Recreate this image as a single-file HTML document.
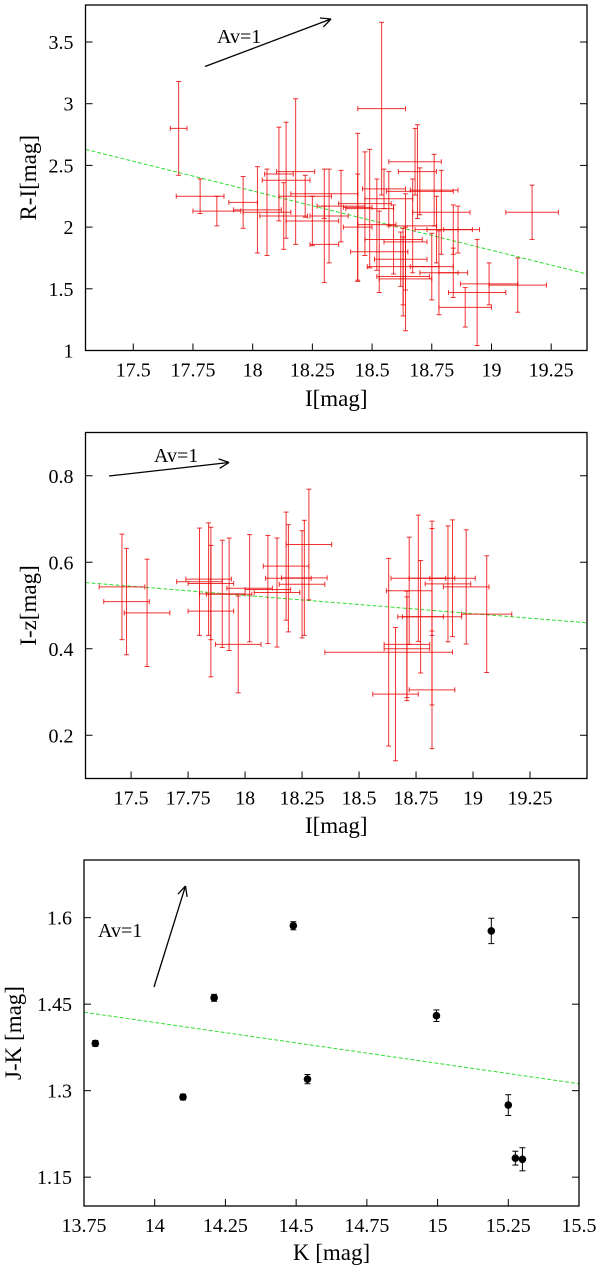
<!DOCTYPE html>
<html><head><meta charset="utf-8"><style>
html,body{margin:0;padding:0;background:#fff;width:600px;height:1268px;overflow:hidden}
svg text{font-family:"Liberation Serif",serif;fill:#000}
</style></head><body>
<svg id="chart" width="600" height="1268" viewBox="0 0 600 1268" xmlns="http://www.w3.org/2000/svg"></svg>
<script>
// Panel 1: R-I vs I
const p1X=[17.69,17.78,17.85,17.96,18.02,18.06,18.11,18.14,18.13,18.18,18.25,18.30,18.30,18.32,18.37,18.44,18.44,18.47,18.49,18.54,18.52,18.57,18.59,18.62,18.63,18.64,18.63,18.67,18.68,18.69,18.70,18.76,18.77,18.75,18.78,18.84,18.86,18.84,18.79,18.89,18.94,18.99,19.11,19.17,18.64,18.55,18.22,18.53];
const p1Y=[2.80,2.25,2.13,2.20,2.14,2.12,2.43,2.38,2.09,2.45,2.05,2.27,1.86,2.09,2.17,2.16,2.00,2.19,2.15,2.96,2.02,2.23,1.90,1.74,1.60,1.58,1.68,2.01,2.53,2.45,2.29,2.30,1.98,1.68,1.63,1.98,1.98,1.63,2.12,1.35,1.47,1.54,1.53,2.12,1.88,2.31,2.25,1.80];
const p1XE=[0.035,0.1,0.1,0.06,0.1,0.1,0.06,0.1,0.1,0.08,0.11,0.14,0.06,0.08,0.1,0.06,0.06,0.11,0.1,0.1,0.08,0.1,0.12,0.11,0.11,0.11,0.15,0.1,0.11,0.08,0.14,0.1,0.09,0.09,0.08,0.11,0.06,0.06,0.12,0.11,0.12,0.12,0.12,0.11,0.09,0.09,0.11,0.12];
const p1YE=[0.38,0.14,0.12,0.21,0.35,0.35,0.38,0.47,0.27,0.59,0.2,0.2,0.31,0.38,0.29,0.6,0.43,0.42,0.48,0.7,0.37,0.22,0.28,0.22,0.32,0.42,0.31,0.38,0.27,0.38,0.19,0.29,0.27,0.27,0.34,0.2,0.19,0.2,0.34,0.16,0.43,0.17,0.22,0.22,0.39,0.16,0.17,0.33];
const p1Fit=[[17.3,2.63],[19.4,1.62]];
const p1XTicks=[17.5,17.75,18,18.25,18.5,18.75,19,19.25];
const p1XTickLabels=["17.5","17.75","18","18.25","18.5","18.75","19","19.25"];
const p1YTicks=[1,1.5,2,2.5,3,3.5];
const p1YTickLabels=["1","1.5","2","2.5","3","3.5"];

// Panel 2: I-z vs I
const p2X=[17.46,17.48,17.57,17.80,17.84,17.85,17.85,17.90,17.93,17.97,18.02,18.10,18.14,18.18,18.19,18.25,18.26,18.28,18.63,18.66,18.71,18.71,18.72,18.76,18.77,18.82,18.82,18.82,18.89,18.91,18.97,19.06];
const p2Y=[0.543,0.509,0.483,0.555,0.561,0.551,0.487,0.527,0.526,0.41,0.540,0.537,0.530,0.591,0.563,0.549,0.564,0.641,0.392,0.295,0.41,0.40,0.534,0.563,0.474,0.305,0.563,0.474,0.550,0.563,0.543,0.48];
const p2XE=[0.1,0.1,0.1,0.1,0.1,0.1,0.1,0.1,0.1,0.1,0.1,0.1,0.1,0.1,0.1,0.1,0.1,0.1,0.28,0.1,0.1,0.1,0.1,0.12,0.1,0.1,0.1,0.13,0.1,0.1,0.1,0.11];
const p2YE=[0.122,0.123,0.124,0.124,0.13,0.13,0.152,0.124,0.13,0.112,0.124,0.125,0.126,0.125,0.124,0.124,0.133,0.128,0.217,0.154,0.123,0.12,0.124,0.146,0.13,0.136,0.132,0.204,0.134,0.135,0.132,0.135];
const p2Fit=[[17.3,0.553],[19.5,0.46]];
const p2XTicks=[17.5,17.75,18,18.25,18.5,18.75,19,19.25];
const p2XTickLabels=["17.5","17.75","18","18.25","18.5","18.75","19","19.25"];
const p2YTicks=[0.2,0.4,0.6,0.8];
const p2YTickLabels=["0.2","0.4","0.6","0.8"];

// Panel 3: J-K vs K
const p3X=[13.79,14.10,14.21,14.49,14.54,14.996,15.19,15.25,15.275,15.30];
const p3Y=[1.382,1.289,1.461,1.586,1.320,1.430,1.577,1.275,1.183,1.181];
const p3YE=[0.005,0.005,0.006,0.007,0.008,0.01,0.022,0.018,0.012,0.02];
const p3Fit=[[13.75,1.436],[15.5,1.312]];
const p3XTicks=[13.75,14,14.25,14.5,14.75,15,15.25,15.5];
const p3XTickLabels=["13.75","14","14.25","14.5","14.75","15","15.25","15.5"];
const p3YTicks=[1.15,1.3,1.45,1.6];
const p3YTickLabels=["1.15","1.3","1.45","1.6"];

const NS="http://www.w3.org/2000/svg";
const svg=document.getElementById('chart');
function mk(tag,attrs,parent){const e=document.createElementNS(NS,tag);for(const k in attrs)e.setAttribute(k,attrs[k]);(parent||svg).appendChild(e);return e;}

function panel(cfg){
  const g=mk('g',{});
  
  
  const sx=v=>cfg.L+(v-cfg.x0)/(cfg.x1-cfg.x0)*(cfg.R-cfg.L);
  const sy=v=>cfg.B-(v-cfg.y0)/(cfg.y1-cfg.y0)*(cfg.B-cfg.T);
  const fl=mk('line',{x1:sx(cfg.fit[0][0]),y1:sy(cfg.fit[0][1]),x2:sx(cfg.fit[1][0]),y2:sy(cfg.fit[1][1]),stroke:'#33dd33','stroke-width':1,'stroke-dasharray':'4,2'},g);
  
  
  for(let i=0;i<cfg.xs.length;i++){
    const pg=mk('g',{},g);
    
    
    const cx=sx(cfg.xs[i]),cy=sy(cfg.ys[i]);
    if(cfg.dots){
      const y1=sy(cfg.ys[i]+cfg.ye[i]),y2=sy(cfg.ys[i]-cfg.ye[i]);
      mk('line',{x1:cx,y1:y1,x2:cx,y2:y2,stroke:'#000','stroke-width':1},pg);
      mk('line',{x1:cx-3,y1:y1,x2:cx+3,y2:y1,stroke:'#000','stroke-width':1},pg);
      mk('line',{x1:cx-3,y1:y2,x2:cx+3,y2:y2,stroke:'#000','stroke-width':1},pg);
      mk('circle',{cx:cx,cy:cy,r:3.8,fill:'#000'},pg);
    } else {
      const c='rgba(235,0,0,0.8)';
      const y1=sy(cfg.ys[i]+cfg.ye[i]),y2=sy(cfg.ys[i]-cfg.ye[i]);
      const x1=sx(cfg.xs[i]-cfg.xe[i]),x2=sx(cfg.xs[i]+cfg.xe[i]);
      mk('line',{x1:cx,y1:y1,x2:cx,y2:y2,stroke:c,'stroke-width':1},pg);
      mk('line',{x1:x1,y1:cy,x2:x2,y2:cy,stroke:c,'stroke-width':1},pg);
      mk('line',{x1:cx-2.5,y1:y1,x2:cx+2.5,y2:y1,stroke:c,'stroke-width':1},pg);
      mk('line',{x1:cx-2.5,y1:y2,x2:cx+2.5,y2:y2,stroke:c,'stroke-width':1},pg);
      mk('line',{x1:x1,y1:cy-2.5,x2:x1,y2:cy+2.5,stroke:c,'stroke-width':1},pg);
      mk('line',{x1:x2,y1:cy-2.5,x2:x2,y2:cy+2.5,stroke:c,'stroke-width':1},pg);
    }
  }
  const fr=mk('rect',{x:cfg.L,y:cfg.T,width:cfg.R-cfg.L,height:cfg.B-cfg.T,fill:'none',stroke:'#000','stroke-width':1.3},g);
  
  
  cfg.xt.forEach((v,i)=>{
    const x=sx(v);
    mk('line',{x1:x,y1:cfg.B,x2:x,y2:cfg.B-7,stroke:'#000','stroke-width':1},g);
    const t=mk('text',{x:x,y:cfg.B+26,'font-size':20,'text-anchor':'middle'},g);
    t.textContent=cfg.xtl[i];
    
    
  });
  cfg.yt.forEach((v,i)=>{
    const y=sy(v);
    mk('line',{x1:cfg.L,y1:y,x2:cfg.L+7,y2:y,stroke:'#000','stroke-width':1},g);
    mk('line',{x1:cfg.R,y1:y,x2:cfg.R-7,y2:y,stroke:'#000','stroke-width':1},g);
    const t=mk('text',{x:cfg.L-12,y:y+7,'font-size':20,'text-anchor':'end'},g);
    t.textContent=cfg.ytl[i];
    
    
  });
  const xt=mk('text',{x:(cfg.L+cfg.R)/2,y:cfg.xty,'font-size':23,'text-anchor':'middle'},g);
  xt.textContent=cfg.xtitle;
  
  
  const yt=mk('text',{x:0,y:0,'font-size':23,'text-anchor':'middle',transform:`translate(${cfg.ytx},${(cfg.T+cfg.B)/2}) rotate(-90)`},g);
  yt.textContent=cfg.ytitle;
  
  
  const a=cfg.arrow;
  const ag=mk('g',{},g);
  
  
  mk('line',{x1:a[0],y1:a[1],x2:a[2],y2:a[3],stroke:'#000','stroke-width':1.3},ag);
  const ang=Math.atan2(a[3]-a[1],a[2]-a[0]);
  [0.45,-0.45].forEach(d=>{
    mk('line',{x1:a[2],y1:a[3],x2:a[2]-11*Math.cos(ang+d),y2:a[3]-11*Math.sin(ang+d),stroke:'#000','stroke-width':1.3},ag);
  });
  const at=mk('text',{x:a[4],y:a[5],'font-size':20},ag);
  at.textContent='Av=1';
}

panel({name:'ri-vs-i-panel',L:85.5,R:587,T:5,B:350.5,x0:17.30,x1:19.40,y0:1,y1:3.80,
  xs:p1X,ys:p1Y,xe:p1XE,ye:p1YE,fit:p1Fit,xt:p1XTicks,xtl:p1XTickLabels,yt:p1YTicks,ytl:p1YTickLabels,
  xtitle:'I[mag]',ytitle:'R-I[mag]',xty:406,ytx:36,arrow:[205,66.5,331,19,217,43]});
panel({name:'iz-vs-i-panel',L:85.5,R:587,T:432.5,B:778.5,x0:17.30,x1:19.50,y0:0.10,y1:0.90,
  xs:p2X,ys:p2Y,xe:p2XE,ye:p2YE,fit:p2Fit,xt:p2XTicks,xtl:p2XTickLabels,yt:p2YTicks,ytl:p2YTickLabels,
  xtitle:'I[mag]',ytitle:'I-z[mag]',xty:833,ytx:36,arrow:[109,476,229,462.5,154,462]});
panel({name:'jk-vs-k-panel',L:84,R:579,T:860,B:1206,x0:13.75,x1:15.5,y0:1.10,y1:1.70,
  xs:p3X,ys:p3Y,xe:p3X.map(()=>0),ye:p3YE,dots:true,fit:p3Fit,xt:p3XTicks,xtl:p3XTickLabels,yt:p3YTicks,ytl:p3YTickLabels,
  xtitle:'K [mag]',ytitle:'J-K [mag]',xty:1260,ytx:21,arrow:[154,987,185.5,886,98,937]});
</script>
</body></html>
